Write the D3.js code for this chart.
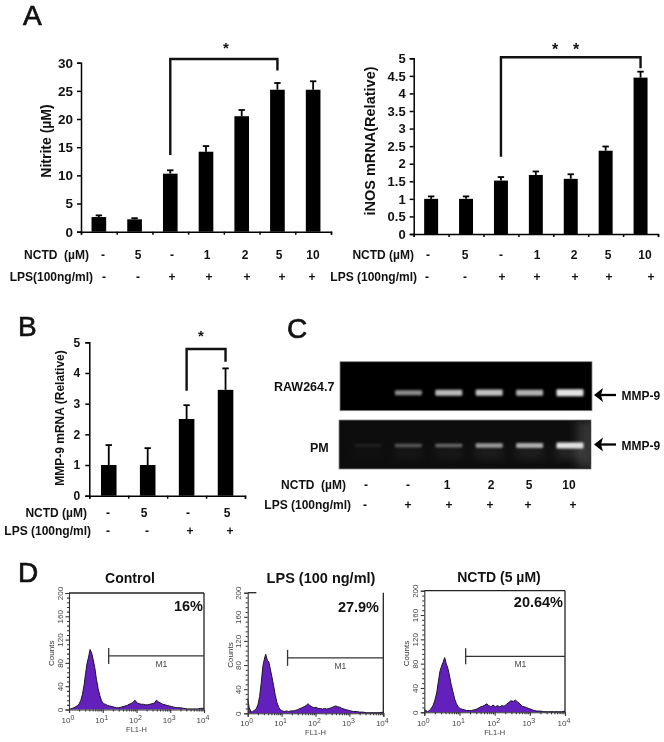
<!DOCTYPE html>
<html><head><meta charset="utf-8">
<script src="https://cdn.jsdelivr.net/npm/d3@7/dist/d3.min.js"></script>
<style>
html,body{margin:0;padding:0;background:#fff}
svg{display:block;filter:blur(0.35px)}
text{font-family:"Liberation Sans",Arial,sans-serif;white-space:pre}
</style></head><body><svg id="c" width="664" height="742"></svg>
<script>
// ---------- DATA ----------
const nitriteValues=[2.6,2.2,10.3,14.2,20.5,25.2,25.2];
const nitriteTops=[2.9,2.4,10.9,15.2,21.6,26.4,26.7];
const nitriteTicks=[0,5,10,15,20,25,30];
const inosValues=[1,1,1.52,1.68,1.57,2.37,4.45];
const inosTops=[1.07,1.07,1.62,1.78,1.7,2.49,4.62];
const inosTicks=[0,0.5,1,1.5,2,2.5,3,3.5,4,4.5,5];
const mmpValues=[1,1,2.5,3.45];
const mmpTops=[1.65,1.55,2.95,4.15];
const mmpTicks=[0,1,2,3,4,5];
const nctdLabels7=["-","5","-","1","2","5","10"];
const lpsLabels7=["-","-","+","+","+","+","+"];
const nctdLabels4=["-","5","-","5"];
const lpsLabels4=["-","-","+","+"];
const nctdLabels6=["-","-","1","2","5","10"];
const lpsLabels6=["-","+","+","+","+","+"];
const gelLanes=["a","b","c","d","e","f"];
const rawBands=[0,0.62,0.82,0.85,0.78,1];
const pmBands=[0.1,0.34,0.42,0.66,0.74,1];
const flChannels=[1,1.1,1.25,1.4,1.6,1.8,2,2.25,2.5,2.8,3.1,3.4,3.8,4.2,4.7,5.2,5.8,6.5,7.3,8.2,9.2,10.5,12,14,16,19,22,26,30,35,40,46,53,60,68,78,90,105,120,140,160,185,215,250,290,340,390,450,520,600,700,800,950,1100,1300,1600,2000,2500,3200,4000,5000,6500,8000,10000];
const controlCounts=[1,1,2,3,5,7,10,16,26,42,62,78,90,103,97,86,72,52,36,24,15,10,9,7,6,5,4,3,3,4,5,6,7,9,10,12,16,11,10,9,9,8,8,9,10,11,16,13,11,9,8,7,6,5,4,3,3,2,1,1,1,1,2,2];
const lpsCounts=[24,10,2,3,5,8,14,28,50,78,90,98,88,85,72,60,46,30,18,10,6,4,3,4,3,4,4,5,6,8,9,11,13,16,13,11,9,10,8,8,7,8,7,8,9,11,12,11,10,8,7,6,5,4,3,3,2,2,1,1,1,1,1,2];
const nctdCounts=[5,3,1,3,7,12,20,32,50,68,76,82,90,80,72,60,46,34,22,14,9,6,5,4,3,3,3,4,5,7,9,10,12,14,11,9,12,9,11,9,11,10,13,16,19,18,20,17,14,10,9,8,6,5,3,2,2,1,1,1,1,1,1,2];
const histYTicks=[0,40,80,120,160,200];
const histYMinor=[8,16,24,32,48,56,64,72,88,96,104,112,128,136,144,152,168,176,184,192];
const histXTicks=[1,10,100,1000,10000];
const histXMinor=[2,3,4,5,6,7,8,9,20,30,40,50,60,70,80,90,200,300,400,500,600,700,800,900,2000,3000,4000,5000,6000,7000,8000,9000];
const gateRange=[15,10000];
const gateCount=92;

// ---------- HELPERS ----------
const svg=d3.select("#c");
function txt(x,y,s,size,opt={}){
  const t=svg.append("text").attr("x",x).attr("y",y).text(s)
    .attr("font-size",size).attr("font-weight",opt.weight||"bold")
    .attr("text-anchor",opt.anchor||"start").attr("fill",opt.fill||"#111");
  if(opt.rotate) t.attr("transform",`rotate(-90 ${x} ${y})`);
  return t;
}
function row(labels,xs,y,size=12){labels.forEach((l,i)=>txt(xs[i],y,l,size,{anchor:"middle"}));}

function barPanel(o){
  const g=svg.append("g");
  const n=o.values.length;
  const idx=o.values.map((_,i)=>i);
  const x=d3.scaleBand().domain(idx).range(o.xr).paddingInner(o.pad).paddingOuter(o.pad/2);
  const y=d3.scaleLinear().domain([0,o.max]).range(o.yr);
  g.selectAll("rect").data(o.values).join("rect")
    .attr("x",(d,i)=>x(i)).attr("width",x.bandwidth())
    .attr("y",d=>y(d)).attr("height",d=>y(0)-y(d)).attr("fill","#000");
  const cx=i=>x(i)+x.bandwidth()/2;
  o.tops.forEach((t,i)=>{
    g.append("line").attr("x1",cx(i)).attr("x2",cx(i)).attr("y1",y(o.values[i])).attr("y2",y(t)).attr("stroke","#000").attr("stroke-width",1.8);
    g.append("line").attr("x1",cx(i)-3.2).attr("x2",cx(i)+3.2).attr("y1",y(t)).attr("y2",y(t)).attr("stroke","#000").attr("stroke-width",1.8);
  });
  const ax=d3.scaleLinear().domain([0,n]).range(o.xr);
  const xa=g.append("g").attr("transform",`translate(0,${y(0)})`).call(d3.axisBottom(ax).tickValues(d3.range(n+1)).tickSize(3).tickFormat(""));
  const ya=g.append("g").attr("transform",`translate(${o.xr[0]},0)`).call(d3.axisLeft(y).tickValues(o.ticks).tickSize(4).tickPadding(o.tickPad||4).tickFormat(d=>d));
  [xa,ya].forEach(a=>{a.selectAll("path,line").attr("stroke","#000").attr("stroke-width",1.5);});
  ya.selectAll("text").attr("font-size",o.tickSize).attr("font-weight","bold").attr("fill","#111").attr("font-family",'"Liberation Sans"');
  const b=o.bracket;
  const path=d3.path();
  path.moveTo(cx(b.from),y(b.leftEnd));path.lineTo(cx(b.from),y(b.top));path.lineTo(cx(b.to),y(b.top));path.lineTo(cx(b.to),y(b.rightEnd));
  g.append("path").attr("d",path.toString()).attr("fill","none").attr("stroke","#111").attr("stroke-width",2.4);
}

function hist(o){
  const g=svg.append("g");
  const x=d3.scaleLog().domain([1,10000]).range(o.xr);
  const y=d3.scaleLinear().domain([0,200]).range(o.yr);
  const pts=flChannels.map((f,i)=>[f,o.counts[i]]);
  g.append("path").attr("d",d3.area().x(d=>x(d[0])).y0(y(0)).y1(d=>y(d[1]))(pts)).attr("fill","#6420bd");
  g.append("path").attr("d",d3.line().x(d=>x(d[0])).y(d=>y(d[1]))(pts)).attr("fill","none").attr("stroke","#1c1626").attr("stroke-width",1);
  const top=y(200), base=y(0);
  g.append("line").attr("x1",o.xr[1]).attr("x2",o.xr[1]).attr("y1",base).attr("y2",top).attr("stroke","#222").attr("stroke-width",1.3);
  g.append("line").attr("x1",o.xr[0]).attr("x2",x(o.topTo)).attr("y1",top).attr("y2",top).attr("stroke","#222").attr("stroke-width",1.3);
  const col="#333";
  const ya=g.append("g").attr("transform",`translate(${o.xr[0]},0)`).call(d3.axisLeft(y).tickValues(histYTicks).tickSize(3.5).tickFormat(d=>d));
  g.append("g").attr("transform",`translate(${o.xr[0]},0)`).call(d3.axisLeft(y).tickValues(histYMinor).tickSize(2).tickFormat("")).select("path").remove();
  g.append("g").attr("transform",`translate(0,${base})`).call(d3.axisBottom(x).tickValues(histXTicks).tickSize(3.5).tickFormat(""));
  g.append("g").attr("transform",`translate(0,${base})`).call(d3.axisBottom(x).tickValues(histXMinor).tickSize(2).tickFormat("")).select("path").remove();
  g.selectAll("path.domain,g.tick line").attr("stroke",col).attr("stroke-width",1.1);
  ya.selectAll("text").attr("font-size",8).attr("fill","#444").attr("font-family",'"Liberation Sans"')
    .attr("x",null).attr("dy",null).attr("text-anchor","middle").attr("transform","translate(-6.5,0) rotate(-90)");
  histXTicks.forEach((t,i)=>{
    const tx=svg.append("text").attr("x",x(t)-1).attr("y",base+o.lblDy).attr("text-anchor","middle").attr("font-size",8).attr("fill","#444");
    tx.append("tspan").text("10");
    tx.append("tspan").text(i).attr("font-size",7).attr("dy",-3);
  });
  txt((o.xr[0]+o.xr[1])/2,base+o.lblDy+9,"FL1-H",7.5,{anchor:"middle",weight:"normal",fill:"#444"});
  txt(o.xr[0]-15,(top+base)/2+2,"Counts",8,{anchor:"middle",weight:"normal",fill:"#333",rotate:true});
  const gy=y(gateCount);
  g.append("line").attr("x1",x(gateRange[0])).attr("x2",x(gateRange[1])).attr("y1",gy).attr("y2",gy).attr("stroke","#333").attr("stroke-width",1.3);
  g.append("line").attr("x1",x(gateRange[0])).attr("x2",x(gateRange[0])).attr("y1",gy-8).attr("y2",gy+8).attr("stroke","#333").attr("stroke-width",1.3);
  txt((x(gateRange[0])+x(gateRange[1]))/2+5,gy+11,"M1",8.5,{anchor:"middle",weight:"normal",fill:"#444"});
}

const defs=svg.append("defs");
defs.append("filter").attr("id","bl").attr("x","-20%").attr("y","-150%").attr("width","140%").attr("height","400%")
  .append("feGaussianBlur").attr("stdDeviation","1.1 0.8");
defs.append("filter").attr("id","bl2").attr("filterUnits","userSpaceOnUse").attr("x",330).attr("y",410).attr("width",280).attr("height",70)
  .append("feGaussianBlur").attr("stdDeviation","5");

function gel(o){
  const g=svg.append("g");
  const lane=d3.scalePoint().domain(gelLanes).range([368,570]);
  const bright=d3.scaleLinear().domain([0,1]).range(["#000","#e2e2e2"]);
  const thick=d3.scaleLinear().domain([0,1]).range([2,o.maxH]);
  const cp="clip"+o.id;
  defs.append("clipPath").attr("id",cp).append("rect").attr("x",o.x).attr("y",o.y).attr("width",o.w).attr("height",o.h);
  g.append("rect").attr("x",o.x).attr("y",o.y).attr("width",o.w).attr("height",o.h).attr("fill",o.bg).attr("stroke","#888").attr("stroke-width",0.8);
  const inner=g.append("g").attr("clip-path",`url(#${cp})`);
  if(o.glow){
    inner.append("rect").attr("x",o.x+238).attr("y",o.y).attr("width",24).attr("height",o.h).attr("fill","#333").attr("filter","url(#bl2)");
    inner.selectAll("rect.sm").data(o.vals).join("rect").attr("class","sm")
      .attr("x",(d,i)=>lane(gelLanes[i])-14).attr("width",28)
      .attr("y",o.y+o.bandDy+3).attr("height",9)
      .attr("fill","#fff").attr("fill-opacity",d=>d*0.14).attr("filter","url(#bl2)");
  }
  inner.selectAll("rect.band").data(o.vals).join("rect").attr("class","band")
    .attr("x",(d,i)=>lane(gelLanes[i])-13.5).attr("width",27)
    .attr("y",d=>o.y+o.bandDy-thick(d)/2).attr("height",d=>thick(d))
    .attr("rx",1).attr("fill","#e2e2e2").attr("fill-opacity",d=>d).attr("filter","url(#bl)");
}
function arrow(xTail,xTip,y){
  const g=svg.append("g");
  g.append("line").attr("x1",xTail).attr("x2",xTip+7).attr("y1",y).attr("y2",y).attr("stroke","#000").attr("stroke-width",2.3);
  g.append("path").attr("d",d3.line()([[xTip,y],[xTip+9,y-7],[xTip+7,y],[xTip+9,y+7]])+"Z").attr("fill","#000");
}

// ---------- PANEL A ----------
txt(23,25,"A",28,{weight:"normal"}).attr("stroke","#111").attr("stroke-width",0.7);
barPanel({values:nitriteValues,tops:nitriteTops,ticks:nitriteTicks,max:30,xr:[81,331],yr:[231.7,62.7],pad:0.59,tickSize:13.5,
  bracket:{from:2,to:5,top:30.67,leftEnd:13.6,rightEnd:28.6}});
txt(50.5,141,"Nitrite (µM)",14,{anchor:"middle",rotate:true});
txt(226,53,"*",15,{anchor:"middle"});
txt(89,258.5,"NCTD  (µM)",12,{anchor:"end"});
row(nctdLabels7,[103,138,172,207,245,279,313],258.5);
txt(93,280.5,"LPS(100ng/ml)",12,{anchor:"end"});
row(lpsLabels7,[104,138,172,209,247,282,312],280.5);

barPanel({values:inosValues,tops:inosTops,ticks:inosTicks,max:5,xr:[413.7,658],yr:[234,58.3],pad:0.6,tickSize:13,
  bracket:{from:2,to:6,top:5.03,leftEnd:2.2,rightEnd:4.72}});
txt(375,141,"iNOS mRNA(Relative)",14.5,{anchor:"middle",rotate:true});
txt(555,55,"*",16,{anchor:"middle"});txt(576,55,"*",16,{anchor:"middle"});
txt(414,258.5,"NCTD (µM)",12,{anchor:"end"});
row(nctdLabels7,[428,465,501,537,574,608,645],258.5);
txt(417,280.5,"LPS (100ng/ml)",12,{anchor:"end"});
row(lpsLabels7,[427,465,502,537,575,609,651],280.5);

// ---------- PANEL B ----------
txt(18,336,"B",28,{weight:"normal"}).attr("stroke","#111").attr("stroke-width",0.7);
barPanel({values:mmpValues,tops:mmpTops,ticks:mmpTicks,max:5,xr:[89.3,245],yr:[495.7,342.3],pad:0.6,tickSize:12,tickPad:5,
  bracket:{from:2,to:3,top:4.78,leftEnd:3.42,rightEnd:4.37}});
txt(63.5,418,"MMP-9 mRNA (Relative)",12,{anchor:"middle",rotate:true});
txt(201,341,"*",15,{anchor:"middle"});
txt(87,516.5,"NCTD (µM)",12,{anchor:"end"});
row(nctdLabels4,[108,144,188,227],516.5);
txt(91,535,"LPS (100ng/ml)",12,{anchor:"end"});
row(lpsLabels4,[108,147,190,230],535);

// ---------- PANEL C ----------
txt(287,338,"C",28,{weight:"normal"}).attr("stroke","#111").attr("stroke-width",0.7);
gel({id:"a",x:340,y:361.7,w:252,h:49,bg:"#000",vals:rawBands,bandDy:31,maxH:7});
gel({id:"b",x:339,y:420,w:252,h:49,bg:"#0d0d0d",vals:pmBands,bandDy:25.5,maxH:6,glow:true});
txt(274,391,"RAW264.7",12.5);
txt(310,451.5,"PM",12.5);
arrow(616,594,395);arrow(616,594,444.5);
txt(621.5,399.5,"MMP-9",12);txt(621.5,449.5,"MMP-9",12);
txt(346,488.5,"NCTD  (µM)",12,{anchor:"end"});
row(nctdLabels6,[366,408,447,491,529,569],488.5);
txt(351,509,"LPS (100ng/ml)",12,{anchor:"end"});
row(lpsLabels6,[365,408,449,490,528,573],509);

// ---------- PANEL D ----------
txt(18,582,"D",28,{weight:"normal"}).attr("stroke","#111").attr("stroke-width",0.7);
hist({counts:controlCounts,xr:[69,204],yr:[709.5,593],topTo:10000,lblDy:13});
hist({counts:lpsCounts,xr:[247.7,383.3],yr:[713.3,592.7],topTo:1.8,lblDy:13});
hist({counts:nctdCounts,xr:[424.3,565],yr:[712.3,590.7],topTo:10000,lblDy:13.5});
txt(130,583,"Control",14,{anchor:"middle"});
txt(321,583,"LPS (100 ng/ml)",14.5,{anchor:"middle"});
txt(499,582,"NCTD (5 µM)",14,{anchor:"middle"});
txt(203,611,"16%",14.5,{anchor:"end"});
txt(379,612,"27.9%",14.5,{anchor:"end"});
txt(563,606.5,"20.64%",14.5,{anchor:"end"});
</script></body></html>
